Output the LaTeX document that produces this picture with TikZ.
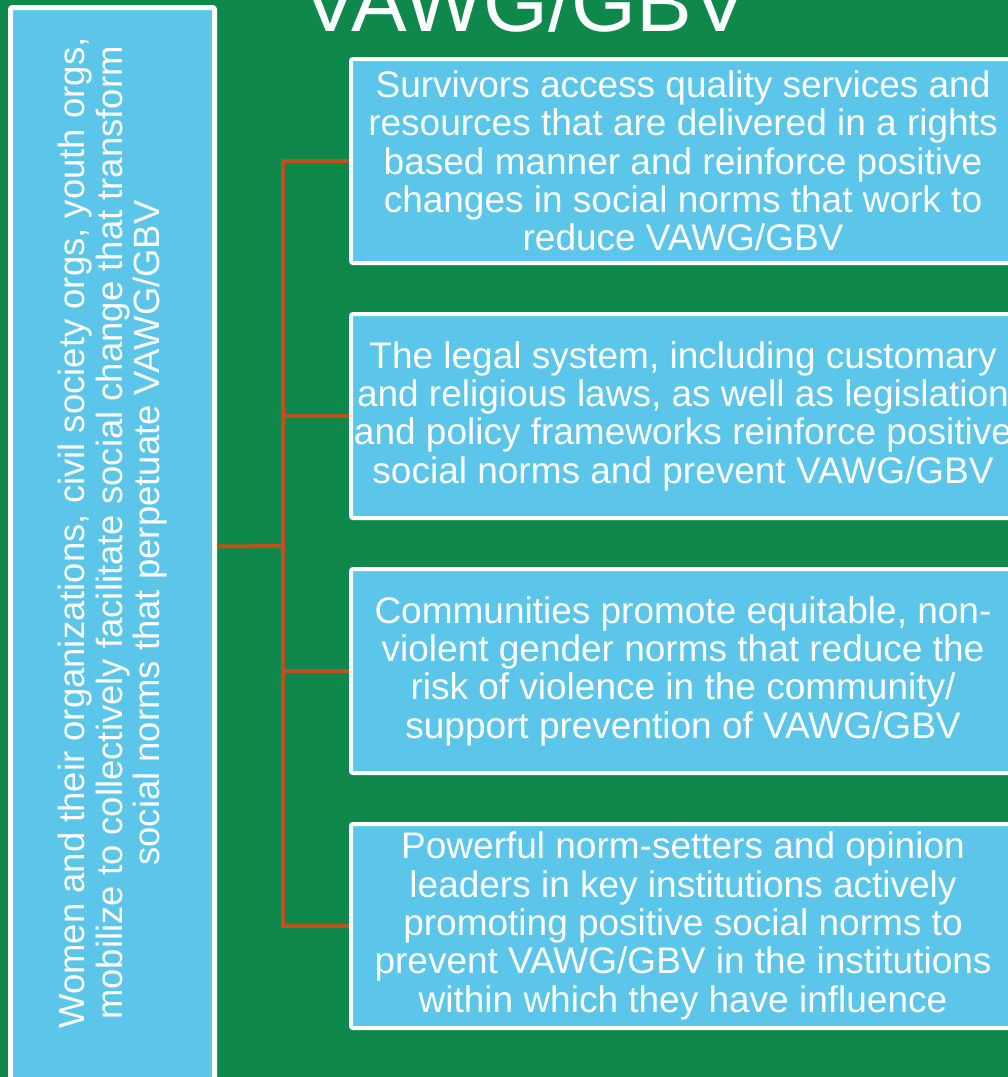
\documentclass[tikz,border=0pt]{standalone}
\usepackage{fontspec}
\setmainfont{Liberation Sans}
\definecolor{bggreen}{RGB}{14,137,75}
\definecolor{boxblue}{RGB}{91,198,234}
\definecolor{connorange}{RGB}{192,80,30}
\begin{document}
\begin{tikzpicture}[x=1pt,y=-1pt,
  outbox/.style={draw=white, line width=4pt, fill=boxblue, rounded corners=2pt,
    minimum width=664pt, minimum height=204pt, inner sep=0pt, align=center,
    text=white, font=\fontsize{37}{38.3}\selectfont},
  leftbox/.style={draw=white, line width=5pt, fill=boxblue, rounded corners=2pt,
    minimum width=1078pt, minimum height=204pt, inner sep=0pt, rotate=90},
  lefttext/.style={align=center, text=white, inner sep=0pt,
    font=\fontsize{36.5}{37.5}\selectfont, rotate=90},
  conn/.style={draw=connorange, line width=4pt}]
\useasboundingbox (0,0) rectangle (1008,1077);
\clip (0,0) rectangle (1008,1077);
\fill[bggreen] (0,0) rectangle (1008,1077);
\node[anchor=base, text=white, font=\fontsize{83.5}{90}\selectfont, inner sep=0pt] (title) at (525,31) {VAWG/GBV};
\coordinate (spine) at (283,546);
\node[leftbox] (left) at (112.5,546.5) {};
\node[lefttext] (lefttxt) at (113,533) {Women and their organizations, civil society orgs, youth orgs,\\mobilize to collectively facilitate social change that transform\\social norms that perpetuate VAWG/GBV};
\draw[conn] (left.south) -- (spine);
\node[outbox, draw=none, fill=none] (p1) at (683,161) {};
\node[outbox, draw=none, fill=none] (p2) at (683,416) {};
\node[outbox, draw=none, fill=none] (p3) at (683,671) {};
\node[outbox, draw=none, fill=none] (p4) at (683,926) {};
\draw[conn] (p1.west) -| (spine);
\draw[conn] (p2.west) -| (spine);
\draw[conn] (p3.west) -| (spine);
\draw[conn] (p4.west) -| (spine);
\node[outbox] (b1) at (683,161) {Survivors access quality services and\\resources that are delivered in a rights\\based manner and reinforce positive\\changes in social norms that work to\\reduce VAWG/GBV};
\node[outbox] (b2) at (683,416) {The legal system, including customary\\and religious laws, as well as legislation\\and policy frameworks reinforce positive\\social norms and prevent VAWG/GBV};
\node[outbox] (b3) at (683,671) {Communities promote equitable, non-\\violent gender norms that reduce the\\risk of violence in the community/\\support prevention of VAWG/GBV};
\node[outbox] (b4) at (683,926) {Powerful norm-setters and opinion\\leaders in key institutions actively\\promoting positive social norms to\\prevent VAWG/GBV in the institutions\\within which they have influence};
\end{tikzpicture}
\end{document}
